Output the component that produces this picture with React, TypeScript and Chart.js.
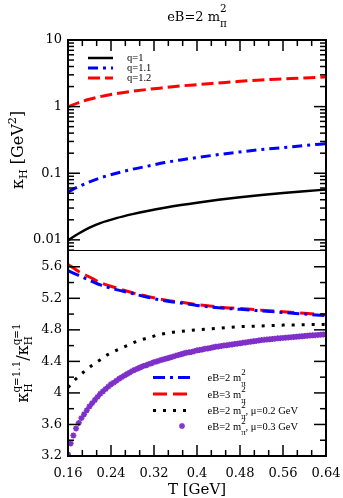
import React, { useEffect, useRef } from 'react';
import { Chart, registerables } from 'chart.js';

Chart.register(...registerables);

const TICK_FONT = '"DejaVu Serif", serif';
const TEXT_FONT = '"Liberation Serif", serif';

// ---------- data ----------
const temperature = [0.16, 0.18, 0.2, 0.22, 0.25, 0.28, 0.31, 0.34, 0.37, 0.4, 0.44, 0.48, 0.52, 0.56, 0.6, 0.64];
const kappaQ1 = [0.0098, 0.01245, 0.01524, 0.01782, 0.02118, 0.02432, 0.02735, 0.03034, 0.03331, 0.03618, 0.03985, 0.04349, 0.04704, 0.05041, 0.05366, 0.05682];
const kappaQ11 = [0.0525, 0.0631, 0.0741, 0.0851, 0.1, 0.1148, 0.1288, 0.1445, 0.1585, 0.1718, 0.1905, 0.2089, 0.2265, 0.2427, 0.26, 0.2786];
const kappaQ12 = [0.99, 1.148, 1.288, 1.413, 1.567, 1.698, 1.82, 1.928, 2.042, 2.138, 2.265, 2.399, 2.512, 2.6, 2.69, 2.786];

const ratioEB2 = [5.55, 5.49, 5.43, 5.37, 5.31, 5.26, 5.21, 5.17, 5.14, 5.11, 5.08, 5.06, 5.04, 5.02, 5.0, 4.98];
const ratioEB3 = [5.63, 5.54, 5.47, 5.4, 5.33, 5.27, 5.22, 5.18, 5.15, 5.12, 5.09, 5.07, 5.05, 5.03, 5.01, 4.99];

const tempMu02 = [0.16, 0.175, 0.19, 0.205, 0.22, 0.235, 0.25, 0.27, 0.29, 0.31, 0.33, 0.35, 0.37, 0.4, 0.44, 0.48, 0.52, 0.56, 0.6, 0.64];
const ratioMu02 = [4.07, 4.18, 4.27, 4.35, 4.42, 4.49, 4.54, 4.6, 4.66, 4.7, 4.74, 4.765, 4.78, 4.8, 4.82, 4.84, 4.85, 4.86, 4.865, 4.87];

const tempMu03 = [
  0.16, 0.165, 0.17, 0.175, 0.18, 0.185, 0.19, 0.195, 0.2, 0.205,
  0.21, 0.215, 0.22, 0.225, 0.23, 0.235, 0.24, 0.245, 0.25, 0.255,
  0.26, 0.265, 0.27, 0.275, 0.28, 0.285, 0.29, 0.295, 0.3, 0.305,
  0.31, 0.315, 0.32, 0.325, 0.33, 0.335, 0.34, 0.345, 0.35, 0.355,
  0.36, 0.365, 0.37, 0.375, 0.38, 0.385, 0.39, 0.395, 0.4, 0.405,
  0.41, 0.415, 0.42, 0.425, 0.43, 0.435, 0.44, 0.445, 0.45, 0.455,
  0.46, 0.465, 0.47, 0.475, 0.48, 0.485, 0.49, 0.495, 0.5, 0.505,
  0.51, 0.515, 0.52, 0.525, 0.53, 0.535, 0.54, 0.545, 0.55, 0.555,
  0.56, 0.565, 0.57, 0.575, 0.58, 0.585, 0.59, 0.595, 0.6, 0.605,
  0.61, 0.615, 0.62, 0.625, 0.63, 0.635, 0.64,
];
const ratioMu03 = [
  3.22, 3.36, 3.46, 3.55, 3.62, 3.68, 3.73, 3.78, 3.83, 3.87,
  3.91, 3.95, 3.99, 4.02, 4.05, 4.08, 4.11, 4.13, 4.155, 4.18,
  4.2, 4.22, 4.24, 4.26, 4.28, 4.295, 4.31, 4.325, 4.34, 4.35,
  4.365, 4.375, 4.39, 4.4, 4.41, 4.42, 4.43, 4.44, 4.45, 4.46,
  4.47, 4.48, 4.49, 4.5, 4.51, 4.515, 4.52, 4.53, 4.54, 4.545,
  4.55, 4.56, 4.565, 4.57, 4.58, 4.585, 4.59, 4.595, 4.6, 4.605,
  4.61, 4.615, 4.62, 4.625, 4.63, 4.635, 4.64, 4.645, 4.65, 4.655,
  4.66, 4.665, 4.67, 4.673, 4.676, 4.68, 4.684, 4.688, 4.692, 4.695,
  4.698, 4.701, 4.704, 4.707, 4.71, 4.713, 4.716, 4.719, 4.722, 4.725,
  4.728, 4.73, 4.733, 4.736, 4.738, 4.741, 4.743,
];

const xTicks = [0.16, 0.24, 0.32, 0.4, 0.48, 0.56, 0.64];
const xTickLabels = ['0.16', '0.24', '0.32', '0.4', '0.48', '0.56', '0.64'];
const topYTicks = [0.01, 0.1, 1, 10];
const topYLabels = ['0.01', '0.1', '1', '10'];
const bottomYTicks = [3.2, 3.6, 4, 4.4, 4.8, 5.2, 5.6];
const bottomYLabels = ['3.2', '3.6', '4', '4.4', '4.8', '5.2', '5.6'];

type Seg = { t: string; sub?: string; sup?: string };
const titleSegs: Seg[] = [{ t: 'eB=2 m', sub: 'π', sup: '2' }];
const topYTitle: Seg[] = [{ t: 'κ', sub: 'H' }, { t: ' [GeV', sup: '2' }, { t: ']' }];
const bottomYTitle: Seg[] = [{ t: 'κ', sub: 'H', sup: 'q=1.1' }, { t: '/κ', sub: 'H', sup: 'q=1' }];
const xTitle = 'T [GeV]';
const topLegend = ['q=1', 'q=1.1', 'q=1.2'];
const bottomLegend: Seg[][] = [
  [{ t: 'eB=2 m', sub: 'π', sup: '2' }],
  [{ t: 'eB=3 m', sub: 'π', sup: '2' }],
  [{ t: 'eB=2 m', sub: 'π', sup: '2' }, { t: ', μ=0.2 GeV' }],
  [{ t: 'eB=2 m', sub: 'π', sup: '2' }, { t: ', μ=0.3 GeV' }],
];

const PURPLE = '#7f30c8';

// ---------- helpers ----------
interface RichOpts { size: number; family: string; k: number; subDy: number; supDy: number; align: 'left' | 'center' }

function richWidth(ctx: CanvasRenderingContext2D, segs: Seg[], o: RichOpts) {
  let w = 0;
  for (const s of segs) {
    ctx.font = `${o.size}px ${o.family}`;
    w += ctx.measureText(s.t).width;
    ctx.font = `${o.size * o.k}px ${o.family}`;
    w += Math.max(s.sub ? ctx.measureText(s.sub).width : 0, s.sup ? ctx.measureText(s.sup).width : 0);
  }
  return w;
}

function drawRich(ctx: CanvasRenderingContext2D, segs: Seg[], x: number, y: number, o: RichOpts) {
  let cx = o.align === 'center' ? x - richWidth(ctx, segs, o) / 2 : x;
  ctx.fillStyle = '#000';
  ctx.textAlign = 'left';
  ctx.textBaseline = 'alphabetic';
  for (const s of segs) {
    ctx.font = `${o.size}px ${o.family}`;
    ctx.fillText(s.t, cx, y);
    cx += ctx.measureText(s.t).width;
    ctx.font = `${o.size * o.k}px ${o.family}`;
    let adv = 0;
    if (s.sub) { ctx.fillText(s.sub, cx, y + o.subDy); adv = ctx.measureText(s.sub).width; }
    if (s.sup) { ctx.fillText(s.sup, cx, y + o.supDy); adv = Math.max(adv, ctx.measureText(s.sup).width); }
    cx += adv;
  }
}

function line(ctx: CanvasRenderingContext2D, x0: number, y0: number, x1: number, y1: number) {
  ctx.beginPath();
  ctx.moveTo(x0, y0);
  ctx.lineTo(x1, y1);
  ctx.stroke();
}

function sample(ctx: CanvasRenderingContext2D, ds: any, x0: number, x1: number, y: number) {
  ctx.save();
  ctx.strokeStyle = ds.borderColor;
  ctx.lineWidth = ds.borderWidth;
  ctx.lineCap = 'butt';
  ctx.setLineDash(ds.borderDash || []);
  line(ctx, x0, y, x1, y);
  ctx.restore();
}

function star(ctx: CanvasRenderingContext2D, x: number, y: number, r: number) {
  ctx.save();
  ctx.strokeStyle = PURPLE;
  ctx.lineWidth = 1.5;
  for (let i = 0; i < 4; i++) {
    const a = (i * Math.PI) / 4;
    line(ctx, x - r * Math.cos(a), y - r * Math.sin(a), x + r * Math.cos(a), y + r * Math.sin(a));
  }
  ctx.restore();
}

function xMinor(): number[] {
  const out: number[] = [];
  for (let i = 0; i < xTicks.length - 1; i++) {
    const step = (xTicks[i + 1] - xTicks[i]) / 3;
    out.push(xTicks[i] + step, xTicks[i] + 2 * step);
  }
  return out;
}

const fixTicks = (vals: number[]) => (s: any) => { s.ticks = vals.map((v) => ({ value: v })); };

// ---------- plugins ----------
const topPlugin = {
  id: 'topDecor',
  afterDraw(chart: any) {
    const { ctx, chartArea, scales } = chart;
    const { left, right, top, bottom } = chartArea;
    const x = scales.x, y = scales.y;
    ctx.save();
    ctx.strokeStyle = '#000';
    ctx.lineWidth = 1.5;
    for (const v of xTicks) { const p = x.getPixelForValue(v); line(ctx, p, top, p, top + 11); }
    for (const v of xMinor()) { const p = x.getPixelForValue(v); line(ctx, p, top, p, top + 6); }
    for (const v of topYTicks) {
      const p = y.getPixelForValue(v);
      line(ctx, left, p, left + 12, p);
      line(ctx, right - 12, p, right, p);
    }
    for (const d of [0.001, 0.01, 0.1, 1]) {
      for (let k = 2; k <= 9; k++) {
        const v = d * k;
        if (v <= y.min || v >= y.max) continue;
        const p = y.getPixelForValue(v);
        line(ctx, left, p, left + 6, p);
        line(ctx, right - 6, p, right, p);
      }
    }
    ctx.lineWidth = 2;
    ctx.beginPath();
    ctx.moveTo(left, bottom); ctx.lineTo(left, top); ctx.lineTo(right, top); ctx.lineTo(right, bottom);
    ctx.stroke();
    ctx.lineWidth = 1;
    line(ctx, left, bottom - 0.5, right, bottom - 0.5);

    drawRich(ctx, titleSegs, (left + right) / 2, 20.7, { size: 13, family: TICK_FONT, k: 0.8, subDy: 6, supDy: -9, align: 'center' });

    ctx.save();
    ctx.translate(23, 150);
    ctx.rotate(-Math.PI / 2);
    drawRich(ctx, topYTitle, 0, 0, { size: 16, family: TICK_FONT, k: 0.7, subDy: 4, supDy: -7, align: 'center' });
    ctx.restore();

    const ds = chart.data.datasets;
    const rows = [58, 68, 78];
    rows.forEach((ry, i) => {
      sample(ctx, ds[i], 88, 113, ry);
      ctx.fillStyle = '#000';
      ctx.font = `10.5px ${TEXT_FONT}`;
      ctx.textAlign = 'left';
      ctx.textBaseline = 'alphabetic';
      ctx.fillText(topLegend[i], 127, ry + 3.3);
    });
    ctx.restore();
  },
};

const bottomPlugin = {
  id: 'bottomDecor',
  afterDraw(chart: any) {
    const { ctx, chartArea, scales } = chart;
    const { left, right, top, bottom } = chartArea;
    const x = scales.x, y = scales.y;
    ctx.save();
    ctx.strokeStyle = '#000';
    ctx.lineWidth = 1.5;
    for (const v of xTicks) { const p = x.getPixelForValue(v); line(ctx, p, bottom, p, bottom - 11); }
    for (const v of xMinor()) { const p = x.getPixelForValue(v); line(ctx, p, bottom, p, bottom - 6); }
    for (let i = 0; i < bottomYTicks.length; i++) {
      const v = bottomYTicks[i];
      const p = y.getPixelForValue(v);
      line(ctx, left, p, left + 12, p);
      line(ctx, right - 12, p, right, p);
      const m = y.getPixelForValue(v + 0.2);
      if (v + 0.2 < y.max - 1e-9) {
        line(ctx, left, m, left + 6, m);
        line(ctx, right - 6, m, right, m);
      }
    }
    ctx.lineWidth = 2;
    ctx.beginPath();
    ctx.moveTo(left, top); ctx.lineTo(left, bottom); ctx.lineTo(right, bottom); ctx.lineTo(right, top);
    ctx.stroke();

    ctx.save();
    ctx.translate(28, 132);
    ctx.rotate(-Math.PI / 2);
    drawRich(ctx, bottomYTitle, 0, 0, { size: 16, family: TICK_FONT, k: 0.65, subDy: 4, supDy: -8, align: 'center' });
    ctx.restore();

    const ds = chart.data.datasets;
    const baselines = [150, 166.5, 183, 198.5];
    baselines.forEach((b, i) => {
      const sy = b - 3.5;
      if (i < 3) sample(ctx, ds[i], 153, 193, sy);
      else star(ctx, 182, sy, 3);
      drawRich(ctx, bottomLegend[i], 207.5, b, { size: 10.5, family: TEXT_FONT, k: 0.85, subDy: 5, supDy: -6, align: 'left' });
    });
    ctx.restore();
  },
};

// ---------- configs ----------
function topConfig(): any {
  const pts = (ys: number[]) => temperature.map((t, i) => ({ x: t, y: ys[i] }));
  return {
    type: 'line',
    data: {
      datasets: [
        { label: 'q=1', data: pts(kappaQ1), borderColor: '#000000', borderWidth: 2.5, pointRadius: 0, cubicInterpolationMode: 'monotone' },
        { label: 'q=1.1', data: pts(kappaQ11), borderColor: '#0000ff', borderWidth: 3, borderDash: [10, 5, 3, 5], pointRadius: 0, cubicInterpolationMode: 'monotone' },
        { label: 'q=1.2', data: pts(kappaQ12), borderColor: '#ff0000', borderWidth: 3, borderDash: [12, 5], pointRadius: 0, cubicInterpolationMode: 'monotone' },
      ],
    },
    options: {
      animation: false,
      responsive: false,
      maintainAspectRatio: false,
      layout: { padding: { left: 0, right: 17, top: 40, bottom: 20 } },
      plugins: { legend: { display: false }, tooltip: { enabled: false }, title: { display: false } },
      scales: {
        x: { type: 'linear', min: 0.16, max: 0.64, display: false },
        y: {
          type: 'logarithmic',
          min: 0.0068,
          max: 10,
          grid: { display: false, drawTicks: false },
          border: { display: false },
          ticks: { color: '#000', font: { family: TICK_FONT, size: 13 }, padding: 6, autoSkip: false, callback: (_v: any, i: number) => topYLabels[i] },
          afterBuildTicks: fixTicks(topYTicks),
          afterFit: (s: any) => { s.width = 68; s.paddingTop = 0; s.paddingBottom = 0; },
        },
      },
    },
    plugins: [topPlugin],
  };
}

function bottomConfig(): any {
  const pts = (xs: number[], ys: number[]) => xs.map((t, i) => ({ x: t, y: ys[i] }));
  return {
    type: 'line',
    data: {
      datasets: [
        { label: 'eB=2', data: pts(temperature, ratioEB2), borderColor: '#0000ff', borderWidth: 3, borderDash: [12, 5, 3, 5], pointRadius: 0, cubicInterpolationMode: 'monotone' },
        { label: 'eB=3', data: pts(temperature, ratioEB3), borderColor: '#ff0000', borderWidth: 3, borderDash: [14, 6], pointRadius: 0, cubicInterpolationMode: 'monotone' },
        { label: 'mu=0.2', data: pts(tempMu02, ratioMu02), borderColor: '#000000', borderWidth: 3, borderDash: [3, 7], pointRadius: 0, cubicInterpolationMode: 'monotone' },
        { label: 'mu=0.3', data: pts(tempMu03, ratioMu03), showLine: false, pointStyle: 'star', pointRadius: 3, pointBorderWidth: 1.6, pointBorderColor: PURPLE, pointBackgroundColor: PURPLE, borderColor: PURPLE },
      ],
    },
    options: {
      animation: false,
      responsive: false,
      maintainAspectRatio: false,
      layout: { padding: { left: 0, right: 17, top: 20, bottom: 0 } },
      plugins: { legend: { display: false }, tooltip: { enabled: false }, title: { display: false } },
      scales: {
        x: {
          type: 'linear',
          min: 0.16,
          max: 0.64,
          grid: { display: false, drawTicks: false },
          border: { display: false },
          ticks: { color: '#000', font: { family: TICK_FONT, size: 13 }, padding: 10, autoSkip: false, maxRotation: 0, minRotation: 0, callback: (_v: any, i: number) => xTickLabels[i] },
          title: { display: true, text: xTitle, color: '#000', font: { family: TICK_FONT, size: 15, lineHeight: 1 }, padding: 0 },
          afterBuildTicks: fixTicks(xTicks),
          afterFit: (s: any) => { s.height = 42; s.paddingLeft = 0; s.paddingRight = 0; },
        },
        y: {
          type: 'linear',
          min: 3.2,
          max: 5.8,
          grid: { display: false, drawTicks: false },
          border: { display: false },
          ticks: { color: '#000', font: { family: TICK_FONT, size: 13 }, padding: 6, autoSkip: false, callback: (_v: any, i: number) => bottomYLabels[i] },
          afterBuildTicks: fixTicks(bottomYTicks),
          afterFit: (s: any) => { s.width = 68; s.paddingTop = 0; s.paddingBottom = 0; },
        },
      },
    },
    plugins: [bottomPlugin],
  };
}

export default function App() {
  const topRef = useRef<HTMLCanvasElement>(null);
  const botRef = useRef<HTMLCanvasElement>(null);
  useEffect(() => {
    const a = new Chart(topRef.current as HTMLCanvasElement, topConfig());
    const b = new Chart(botRef.current as HTMLCanvasElement, bottomConfig());
    return () => { a.destroy(); b.destroy(); };
  }, []);
  return (
    <div style={{ position: 'absolute', left: 0, top: 0, width: 343, height: 498, background: '#fff' }}>
      <canvas ref={topRef} width={343} height={271} style={{ position: 'absolute', left: 0, top: 0 }} />
      <canvas ref={botRef} width={343} height={267} style={{ position: 'absolute', left: 0, top: 231 }} />
    </div>
  );
}
